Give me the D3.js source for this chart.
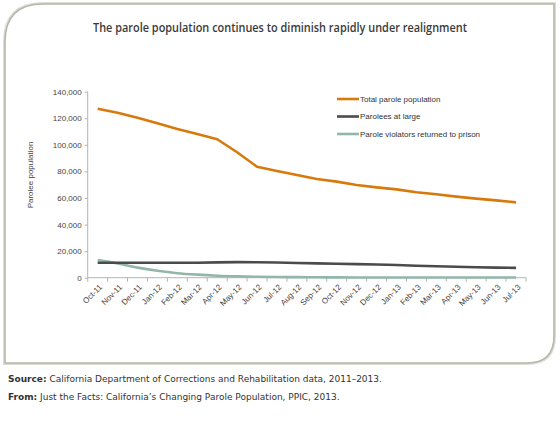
<!DOCTYPE html>
<html>
<head>
<meta charset="utf-8">
<script src="https://cdn.jsdelivr.net/npm/d3@7"></script>
<style>
  body { margin: 0; background: #fff; }
  svg { display: block; }
</style>
</head>
<body>
<script>
// data
const months = ["Oct-11","Nov-11","Dec-11","Jan-12","Feb-12","Mar-12","Apr-12","May-12","Jun-12","Jul-12","Aug-12","Sep-12","Oct-12","Nov-12","Dec-12","Jan-13","Feb-13","Mar-13","Apr-13","May-13","Jun-13","Jul-13"];
const totalParole = [127200,124200,120400,116200,111900,108200,104200,94400,83500,80300,77300,74300,72300,69800,68000,66500,64300,62800,61000,59500,58200,56700];
const atLarge = [11300,11300,11200,11300,11300,11200,11500,11700,11600,11400,11100,10800,10500,10200,9900,9600,9000,8600,8200,7900,7600,7400];
const returned = [13300,10800,7600,5200,3400,2300,1500,1000,700,500,400,300,250,200,150,150,100,100,100,100,100,100];
const yTicks = [0,20000,40000,60000,80000,100000,120000,140000];
const seriesNames = ["Total parole population","Parolees at large","Parole violators returned to prison"];
const seriesColors = ["#d8790c","#4b4b4b","#93b6aa"];

const width = 560, height = 447;

const svg = d3.select("body").append("svg")
  .attr("width", width)
  .attr("height", height);

// frame with two rounded corners
const fx0 = 5, fy0 = 4, fx1 = 554, fy1 = 363, r1 = 38, r2 = 27;
const framePath = `M${fx0},${fy1} L${fx0},${fy0 + r1} Q${fx0},${fy0} ${fx0 + r1},${fy0} L${fx1},${fy0} L${fx1},${fy1 - r2} Q${fx1},${fy1} ${fx1 - r2},${fy1} Z`;
svg.append("path").attr("d", framePath)
  .attr("fill", "none").attr("stroke", "#dcded6").attr("stroke-width", 4);
svg.append("path").attr("d", framePath)
  .attr("fill", "#fff").attr("stroke", "#b3b6aa").attr("stroke-width", 1.5);

// title
svg.append("text")
  .attr("x", 280).attr("y", 32)
  .attr("text-anchor", "middle")
  .attr("font-family", "'Open Sans', sans-serif")
  .attr("font-weight", 600)
  .attr("font-size", 13)
  .attr("fill", "#3a3a3a")
  .attr("textLength", 374)
  .attr("lengthAdjust", "spacingAndGlyphs")
  .text("The parole population continues to diminish rapidly under realignment");

const x = d3.scaleBand().domain(months).range([87.7, 526]);
const y = d3.scaleLinear().domain([0, 140000]).range([277.7, 91.7]);

const g = svg.append("g")
  .attr("font-family", "'Liberation Sans', Arial, sans-serif")
  .attr("font-size", 8)
  .attr("fill", "#444");

// y axis
const yAxis = g.append("g")
  .attr("transform", `translate(${x.range()[0]},0)`)
  .call(d3.axisLeft(y).tickValues(yTicks).tickSize(3).tickPadding(3).tickFormat(d3.format(",")));
yAxis.selectAll("text").attr("font-family", "'Liberation Sans', Arial, sans-serif").attr("font-size", 8).attr("fill", "#444");
yAxis.selectAll("line,path").attr("stroke", "#b4b4b4");
yAxis.select(".domain").attr("d", `M0,${y(0)}V${y(140000)}`);

// x axis: domain line, ticks between categories, rotated labels
const xAxis = g.append("g");
xAxis.append("line")
  .attr("x1", x.range()[0]).attr("x2", x.range()[1])
  .attr("y1", y(0)).attr("y2", y(0))
  .attr("stroke", "#b4b4b4");
xAxis.selectAll("line.tick")
  .data(months.concat(["end"]))
  .join("line")
  .attr("class", "tick")
  .attr("x1", d => d === "end" ? x.range()[1] : x(d))
  .attr("x2", d => d === "end" ? x.range()[1] : x(d))
  .attr("y1", y(0)).attr("y2", y(0) + 4)
  .attr("stroke", "#b4b4b4");
xAxis.selectAll("text")
  .data(months)
  .join("text")
  .attr("transform", d => `translate(${x(d) + x.bandwidth() / 2 + 3},${y(0) + 8}) rotate(-45)`)
  .attr("text-anchor", "end")
  .attr("dy", "0.35em")
  .text(d => d);

// y axis title
g.append("text")
  .attr("transform", "translate(33,175) rotate(-90)")
  .attr("text-anchor", "middle")
  .text("Parolee population");

// lines: orange and black straight, teal smoothed
const series = [totalParole, atLarge, returned];
const lineFor = i => d3.line()
  .x((d, j) => x(months[j]) + x.bandwidth() / 2)
  .y(d => y(d))
  .curve(i === 2 ? d3.curveMonotoneX : d3.curveLinear);

g.append("g")
  .selectAll("path")
  .data([2, 1, 0])
  .join("path")
  .attr("d", i => lineFor(i)(series[i]))
  .attr("fill", "none")
  .attr("stroke", i => seriesColors[i])
  .attr("stroke-width", 2.6)
  .attr("stroke-linejoin", "round");

// legend
const legend = g.append("g").attr("transform", "translate(337,99)");
const item = legend.selectAll("g")
  .data(seriesNames)
  .join("g")
  .attr("transform", (d, i) => `translate(0,${i * 17.5})`);
item.append("line")
  .attr("x1", 0).attr("x2", 22)
  .attr("stroke", (d, i) => seriesColors[i])
  .attr("stroke-width", 2.6);
item.append("text")
  .attr("x", 23).attr("dy", "0.35em")
  .attr("fill", "#333")
  .text(d => d);

// source notes
const notes = svg.append("g")
  .attr("font-family", "'DejaVu Sans', Verdana, sans-serif")
  .attr("font-size", 9)
  .attr("fill", "#333");
const n1 = notes.append("text").attr("x", 8).attr("y", 382);
n1.append("tspan").attr("font-weight", "bold").text("Source:");
n1.append("tspan").text(" California Department of Corrections and Rehabilitation data, 2011–2013.");
const n2 = notes.append("text").attr("x", 8).attr("y", 399.5);
n2.append("tspan").attr("font-weight", "bold").text("From:");
n2.append("tspan").text(" Just the Facts: California’s Changing Parole Population, PPIC, 2013.");
</script>
</body>
</html>
